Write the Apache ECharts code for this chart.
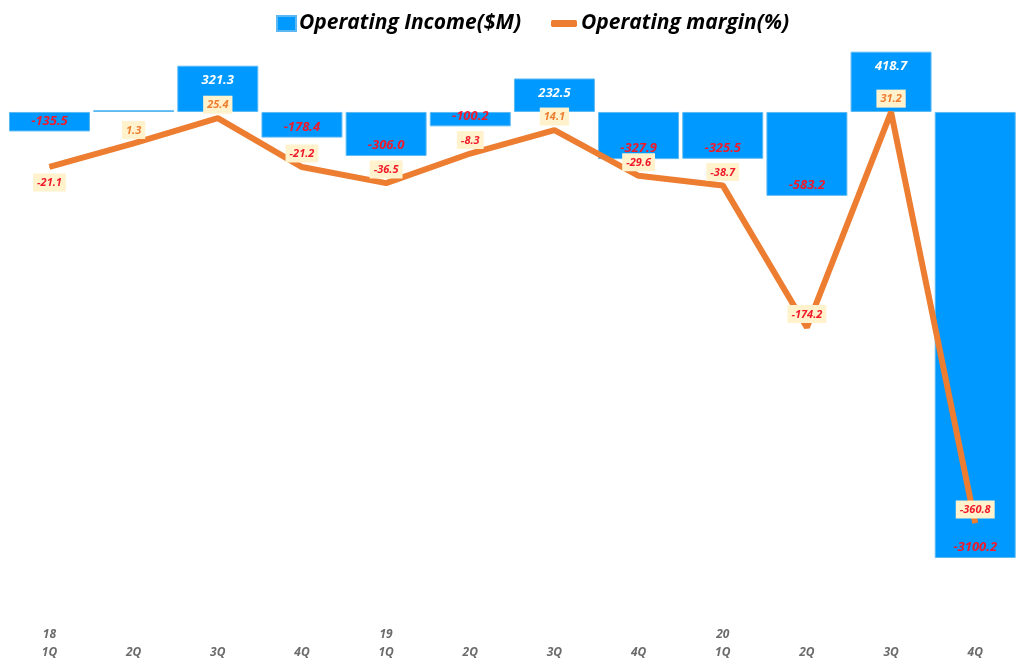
<!DOCTYPE html>
<html>
<head>
<meta charset="utf-8">
<script src="https://cdn.jsdelivr.net/npm/echarts@6/dist/echarts.min.js"></script>
<style>
html,body{margin:0;padding:0;background:#fff;}
#main{width:1024px;height:668px;}
</style>
</head>
<body>
<div id="main"></div>
<script>
var categories = ['18\n1Q','\n2Q','\n3Q','\n4Q','19\n1Q','\n2Q','\n3Q','\n4Q','20\n1Q','\n2Q','\n3Q','\n4Q'];
var operatingIncome = [-135.5, 12, 321.3, -178.4, -306.0, -100.2, 232.5, -327.9, -325.5, -583.2, 418.7, -3100.2];
var operatingMargin = [-21.1, 1.3, 25.4, -21.2, -36.5, -8.3, 14.1, -29.6, -38.7, -174.2, 31.2, -360.8];

var FONT = "'Open Sans', sans-serif";
var RED = '#F01A2A';
var ORANGE = '#ED7D31';

var barData = operatingIncome.map(function (v) {
  return {
    value: v,
    label: v >= 0
      ? { position: 'insideTop', distance: 8, color: '#ffffff' }
      : { position: 'insideBottom', distance: 4, color: RED }
  };
});
var lineData = operatingMargin.map(function (v, i) {
  return {
    value: v,
    label: {
      position: i === 0 ? 'bottom' : 'top',
      distance: i === 0 ? 6 : 4,
      color: v >= 0 ? ORANGE : RED
    }
  };
});

var chart = echarts.init(document.getElementById('main'));
chart.setOption({
  animation: false,
  backgroundColor: '#ffffff',
  legend: [
    {
      data: [{ name: 'Operating Income($M)', icon: 'rect' }],
      left: 271, top: 8,
      itemWidth: 19, itemHeight: 15, itemGap: 4,
      textStyle: { fontFamily: FONT, fontSize: 21, fontWeight: 'bold', fontStyle: 'italic', color: '#000', padding: [0, 0, 0, -2] }
    },
    {
      data: [{ name: 'Operating margin(%)', icon: 'roundRect' }],
      left: 546, top: 8,
      itemWidth: 26, itemHeight: 7, itemGap: 4,
      textStyle: { fontFamily: FONT, fontSize: 21, fontWeight: 'bold', fontStyle: 'italic', color: '#000', padding: [0, 0, 0, -1] }
    }
  ],
  grid: { left: 7.4, right: 6.7, top: 40, bottom: 52.5 },
  xAxis: {
    type: 'category',
    data: categories,
    axisLine: { show: false },
    axisTick: { show: false },
    axisLabel: {
      margin: 10,
      fontFamily: FONT, fontSize: 12, fontStyle: 'italic', fontWeight: 'bold',
      color: '#6b6b6b', lineHeight: 18
    }
  },
  yAxis: [
    { type: 'value', min: -3500, max: 500, show: false, splitLine: { show: false } },
    { type: 'value', min: -449, max: 100, show: false, splitLine: { show: false } }
  ],
  series: [
    {
      name: 'Operating Income($M)',
      type: 'bar',
      yAxisIndex: 0,
      data: barData,
      barCategoryGap: '3.8%',
      itemStyle: { color: '#0099FF', borderColor: '#5CB8F2', borderWidth: 1 },
      label: {
        show: true,
        fontFamily: FONT, fontSize: 13, fontWeight: 'bold', fontStyle: 'italic',
        formatter: function (p) { return p.value.toFixed(1); }
      },
      z: 1
    },
    {
      name: 'Operating margin(%)',
      type: 'line',
      yAxisIndex: 1,
      data: lineData,
      symbol: 'circle',
      symbolSize: 1,
      showSymbol: true,
      lineStyle: { color: ORANGE, width: 6 },
      itemStyle: { color: ORANGE },
      label: {
        show: true,
        fontFamily: FONT, fontSize: 11, fontWeight: 'bold', fontStyle: 'italic',
        backgroundColor: '#FFF2CC',
        padding: [4, 4, 3, 4],
        formatter: function (p) { return p.value.toFixed(1); }
      },
      labelLayout: { hideOverlap: false },
      z: 3
    }
  ]
});
</script>
</body>
</html>
